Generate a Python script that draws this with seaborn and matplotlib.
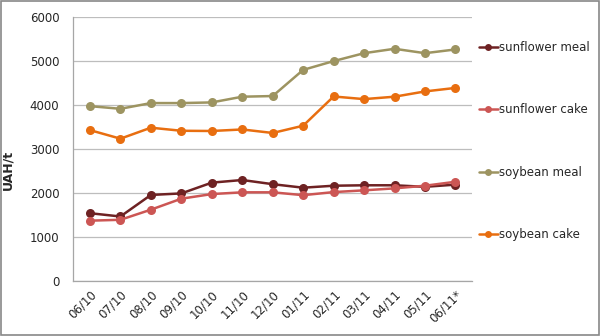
import matplotlib
matplotlib.use("Agg")
import matplotlib.pyplot as plt
import seaborn as sns
import pandas as pd

months = ["06/10", "07/10", "08/10", "09/10", "10/10", "11/10", "12/10",
          "01/11", "02/11", "03/11", "04/11", "05/11", "06/11*"]

sunflower_meal = [1540, 1465, 1955, 1990, 2235, 2295, 2200, 2120, 2165, 2175, 2175, 2140, 2190]
sunflower_cake = [1370, 1390, 1620, 1870, 1975, 2015, 2015, 1950, 2020, 2060, 2105, 2165, 2255]
soybean_meal = [3975, 3915, 4045, 4045, 4060, 4190, 4205, 4800, 5000, 5180, 5280, 5180, 5265]
soybean_cake = [3430, 3235, 3485, 3415, 3410, 3445, 3365, 3530, 4195, 4135, 4190, 4310, 4390]

series_names = ["sunflower meal", "sunflower cake", "soybean meal", "soybean cake"]
series_values = [sunflower_meal, sunflower_cake, soybean_meal, soybean_cake]
colors = ["#6E2223", "#CC5654", "#9D9461", "#E86E10"]

rows = []
for name, vals in zip(series_names, series_values):
    for i, (m, v) in enumerate(zip(months, vals)):
        rows.append({"month": m, "pos": i, "product": name, "price": v})
df = pd.DataFrame(rows)

sns.set_style("white")
plt.rcParams["font.family"] = ["DejaVu Sans"]

fig = plt.figure(figsize=(6, 3.36), dpi=100)
ax = fig.add_axes([0.122, 0.164, 0.665, 0.785])

sns.lineplot(data=df, x="pos", y="price", hue="product", hue_order=series_names,
             palette=colors, marker="o", markersize=6.5, markeredgewidth=0,
             linewidth=1.8, ax=ax, legend=False)

ax.set_ylim(0, 6000)
ax.set_yticks(range(0, 6001, 1000))
ax.set_xlim(-0.55, len(months) - 0.45)
ax.set_xticks(range(len(months)))
ax.set_xticklabels(months, rotation=45, ha="right", rotation_mode="anchor", fontsize=8.5)
ax.tick_params(axis="y", labelsize=8.5, length=0, pad=10)
ax.tick_params(axis="x", length=0, pad=5)
ax.yaxis.grid(True, color="#BDBDBD", linewidth=0.9)
ax.set_axisbelow(True)
for s in ["top", "right"]:
    ax.spines[s].set_visible(False)
for s in ["left", "bottom"]:
    ax.spines[s].set_color("#A6A6A6")
    ax.spines[s].set_linewidth(0.9)
ax.set_xlabel("")
ax.set_ylabel("UAH/t", fontsize=9, fontweight="bold")
ax.yaxis.set_label_coords(-0.147, 0.42)

handles = [plt.Line2D([], [], color=c, marker="o", markersize=5, markeredgewidth=0,
                      linewidth=1.8) for c in colors]
fig.legend(handles, series_names, loc="upper left", bbox_to_anchor=(0.79, 0.893),
           frameon=False, fontsize=8.5, handlelength=1.6, handletextpad=0.1,
           labelspacing=4.2, borderaxespad=0)

fig.patches.append(plt.Rectangle((0.0015, 0.002), 0.997, 0.995, transform=fig.transFigure,
                                 fill=False, edgecolor="#888888", linewidth=1.2))

fig.savefig("out.png", dpi=100)
